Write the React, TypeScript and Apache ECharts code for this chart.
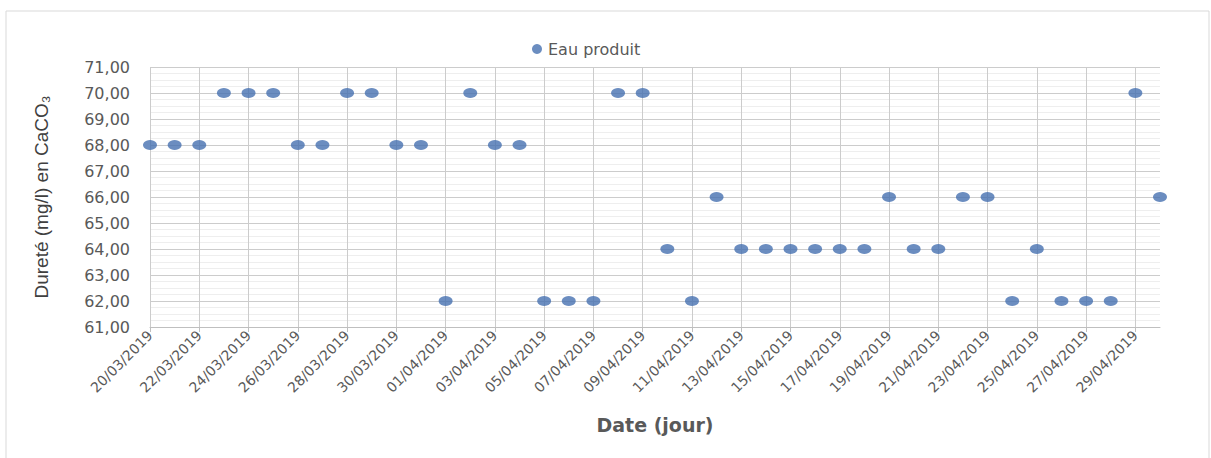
import React, { useEffect, useRef } from "react";
import * as echarts from "echarts";

const dates = [
  "20/03/2019", "21/03/2019", "22/03/2019", "23/03/2019", "24/03/2019", "25/03/2019",
  "26/03/2019", "27/03/2019", "28/03/2019", "29/03/2019", "30/03/2019", "31/03/2019",
  "01/04/2019", "02/04/2019", "03/04/2019", "04/04/2019", "05/04/2019", "06/04/2019",
  "07/04/2019", "08/04/2019", "09/04/2019", "10/04/2019", "11/04/2019", "12/04/2019",
  "13/04/2019", "14/04/2019", "15/04/2019", "16/04/2019", "17/04/2019", "18/04/2019",
  "19/04/2019", "20/04/2019", "21/04/2019", "22/04/2019", "23/04/2019", "24/04/2019",
  "25/04/2019", "26/04/2019", "27/04/2019", "28/04/2019", "29/04/2019", "30/04/2019",
];

const eauProduit = [
  68, 68, 68, 70, 70, 70,
  68, 68, 70, 70, 68, 68,
  62, 70, 68, 68, 62, 62,
  62, 70, 70, 64, 62, 66,
  64, 64, 64, 64, 64, 64,
  66, 64, 64, 66, 66, 62,
  64, 62, 62, 62, 70, 66,
];

const seriesName = "Eau produit";
const yTitle = "Dureté (mg/l) en CaCO₃";
const xTitle = "Date (jour)";

export default function App() {
  const ref = useRef<HTMLDivElement>(null);
  useEffect(() => {
    document.body.style.margin = "0";
    if (!ref.current) return;
    const chart = echarts.init(ref.current, undefined, { renderer: "svg" });
    const gray = "#595959";
    const font = "DejaVu Sans";
    chart.setOption({
      animation: false,
      backgroundColor: "#ffffff",
      graphic: [
        {
          type: "rect",
          shape: { x: 6, y: 11, width: 1203, height: 460 },
          style: { fill: "none", stroke: "#d9d9d9", lineWidth: 1 },
          silent: true,
        },
      ],
      legend: {
        data: [seriesName],
        top: 36,
        left: 527,
        icon: "circle",
        itemWidth: 12,
        itemHeight: 10,
        itemGap: 4,
        textStyle: { color: gray, fontSize: 16, fontFamily: font },
      },
      grid: { left: 150, right: 51, top: 67, bottom: 131 },
      xAxis: {
        type: "category",
        data: dates,
        boundaryGap: false,
        name: xTitle,
        nameLocation: "middle",
        nameGap: 88,
        nameTextStyle: { color: gray, fontSize: 19, fontWeight: "bold", fontFamily: font },
        axisLine: { lineStyle: { color: "#bfbfbf" } },
        axisTick: { show: true, interval: 1, length: 5, lineStyle: { color: "#bfbfbf" } },
        axisLabel: {
          interval: 1,
          rotate: 45,
          color: gray,
          fontSize: 14,
          fontFamily: font,
          margin: 6,
        },
        splitLine: { show: true, interval: 1, lineStyle: { color: "#cccccc" } },
      },
      yAxis: {
        type: "value",
        min: 61,
        max: 71,
        interval: 1,
        name: yTitle,
        nameLocation: "middle",
        nameGap: 99,
        nameRotate: 90,
        nameTextStyle: { color: "#404040", fontSize: 19, fontFamily: "Liberation Sans" },
        axisLine: { show: false },
        axisTick: { show: false },
        axisLabel: {
          color: gray,
          fontSize: 16,
          fontFamily: font,
          margin: 20,
          formatter: (v: number) => v.toFixed(2).replace(".", ","),
        },
        splitLine: { lineStyle: { color: "#cccccc" } },
        minorTick: { show: false, splitNumber: 4 },
        minorSplitLine: { show: true, lineStyle: { color: "#eeeeee" } },
      },
      series: [
        {
          name: seriesName,
          type: "scatter",
          data: eauProduit,
          symbol: "circle",
          symbolSize: [14, 10],
          itemStyle: { color: "#4670b0" },
        },
      ],
    });
    return () => chart.dispose();
  }, []);
  return <div ref={ref} style={{ width: 1211, height: 458 }} />;
}
